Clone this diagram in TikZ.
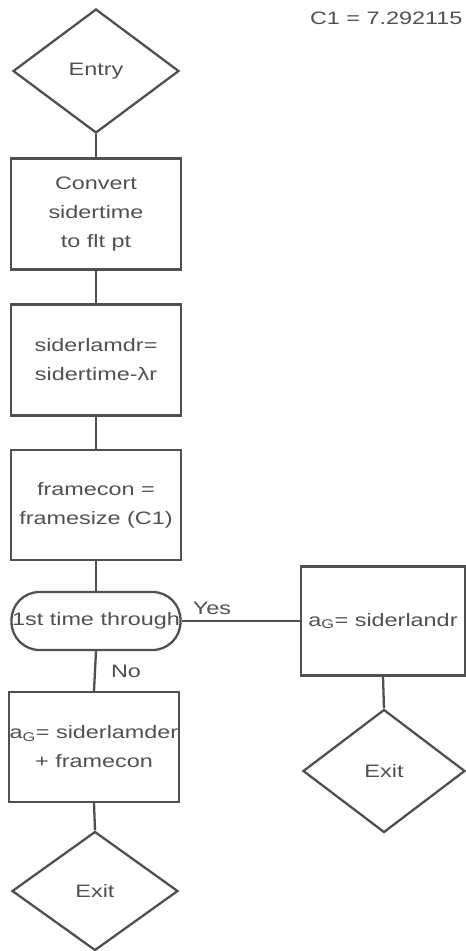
\documentclass[tikz,border=0pt]{standalone}
\usepackage{fontspec}
\setmainfont[FakeStretch=1.3]{Liberation Sans}
\usepackage{xcolor}
\usetikzlibrary{shapes.geometric, arrows}
\usetikzlibrary{calc,positioning}

\definecolor{pencil}{HTML}{505050}

\tikzset{
    handtext/.style={text=pencil, font=\fontsize{18}{29}\selectfont},
    flowbox/.style={draw=pencil, line width=2.3pt, handtext, align=center,
        minimum width=170pt, minimum height=111pt, inner sep=1pt},
    flowdiam/.style={draw=pencil, line width=2.3pt, handtext, diamond,
        aspect=1.33, minimum width=166pt, minimum height=124pt, inner sep=0pt},
    flowtest/.style={draw=pencil, line width=2.3pt, handtext, rounded corners=28pt,
        minimum width=169pt, minimum height=58pt, inner sep=0pt},
    flowline/.style={draw=pencil, line width=2.3pt},
}

\begin{document}
\begin{tikzpicture}[x=1pt, y=-1pt]

    \useasboundingbox (0,0) rectangle (466,951);

    % Constant
    \node[handtext, anchor=east] (cone) at (466,18) {C1 = 7.292115};

    % Left column
    \node[flowdiam] (entry) at (96,71) {Entry};
    \node[flowbox] (convert) at (96,214) {Convert\\sidertime\\to flt pt};
    \node[flowbox] (lamdr) at (96,360) {siderlamdr=\\sidertime-λr};
    \node[flowbox, minimum height=110pt] (framecon) at (96,505) {framecon =\\framesize (C1)};
    \node[flowtest] (first) at (96,621) {1st time through};
    \node[flowbox, minimum height=110pt] (accleft) at (94,747)
        {a\textsubscript{G}= siderlamder\\+ framecon};
    \node[flowdiam, minimum height=119pt] (exitleft) at (95,891) {Exit};

    % Right column
    \node[flowbox, minimum width=164pt, minimum height=109pt] (accright) at (383,621)
        {a\textsubscript{G}= siderlandr};
    \node[flowdiam, minimum width=162pt, minimum height=123pt] (exitright) at (384,771) {Exit};

    % Connectors
    \draw[flowline] (entry.south) -- (convert.north);
    \draw[flowline] (convert.south) -- (lamdr.north);
    \draw[flowline] (lamdr.south) -- (framecon.north);
    \draw[flowline] (framecon.south) -- (first.north);
    \draw[flowline] (first.south) -- (accleft.north);
    \draw[flowline] (accleft.south) -- (exitleft.north);
    \draw[flowline] (first.east) -- (accright.west);
    \draw[flowline] (accright.south) -- (exitright.north);

    % Labels
    \node[handtext] (yes) at (212,608) {Yes};
    \node[handtext] (no) at (126,671) {No};

\end{tikzpicture}
\end{document}
